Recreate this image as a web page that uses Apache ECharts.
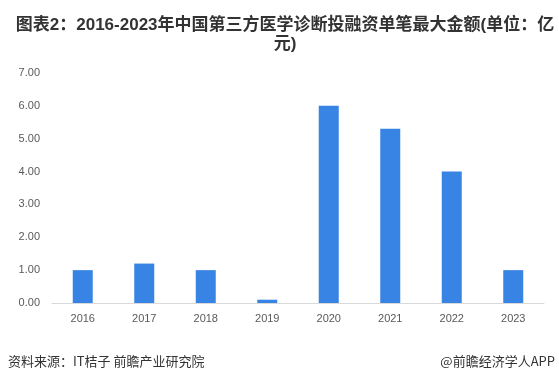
<!DOCTYPE html>
<html>
<head>
<meta charset="utf-8">
<script src="https://cdn.jsdelivr.net/npm/echarts@6/dist/echarts.min.js"></script>
<style>
  html, body { margin: 0; padding: 0; background: #fff; }
  #chart { width: 559px; height: 378px; }
</style>
</head>
<body>
<div id="chart"></div>
<script>
// 年份
const years = ["2016", "2017", "2018", "2019", "2020", "2021", "2022", "2023"];
// 单笔最大金额（亿元）
const maxAmount = [1.0, 1.2, 1.0, 0.1, 6.0, 5.3, 4.0, 1.0];

const chart = echarts.init(document.getElementById("chart"));

const option = {
  backgroundColor: "#fff",
  textStyle: { fontFamily: "Arial, 'Liberation Sans', 'Noto Sans CJK SC', sans-serif" },
  title: {
    text: "图表2：2016-2023年中国第三方医学诊断投融资单笔最大金额(单位：亿\n元)",
    left: 280,
    top: 11,
    textAlign: "center",
    textStyle: {
      fontSize: 17,
      fontWeight: "bold",
      color: "#333",
      lineHeight: 19,
      fontFamily: "Arial, 'Liberation Sans', 'Noto Sans CJK SC', sans-serif",
    },
  },
  grid: { left: 52, right: 15, top: 73, bottom: 75 },
  xAxis: {
    type: "category",
    data: years,
    axisLine: { lineStyle: { color: "#d9d9d9", width: 1 } },
    axisTick: { show: false },
    axisLabel: { color: "#595959", fontSize: 11, margin: 10 },
  },
  yAxis: {
    type: "value",
    min: 0,
    max: 7,
    interval: 1,
    axisLine: { show: false },
    axisTick: { show: false },
    splitLine: { show: false },
    axisLabel: {
      color: "#595959",
      fontSize: 11,
      margin: 12,
      formatter: (v) => v.toFixed(2),
    },
  },
  series: [
    {
      name: "单笔最大金额",
      type: "bar",
      data: maxAmount,
      barWidth: 20,
      itemStyle: { color: "#3784E5" },
    },
  ],
  graphic: [
    {
      type: "text",
      left: 8,
      top: 355,
      style: {
        text: "资料来源：IT桔子 前瞻产业研究院",
        fill: "#333",
        fontSize: 13,
        fontFamily: "'Noto Sans CJK SC', sans-serif",
      },
    },
    {
      type: "text",
      right: 4,
      top: 355,
      style: {
        text: "@前瞻经济学人APP",
        fill: "#333",
        fontSize: 13,
        fontFamily: "'Noto Sans CJK SC', sans-serif",
      },
    },
  ],
};

chart.setOption(option);
</script>
</body>
</html>
